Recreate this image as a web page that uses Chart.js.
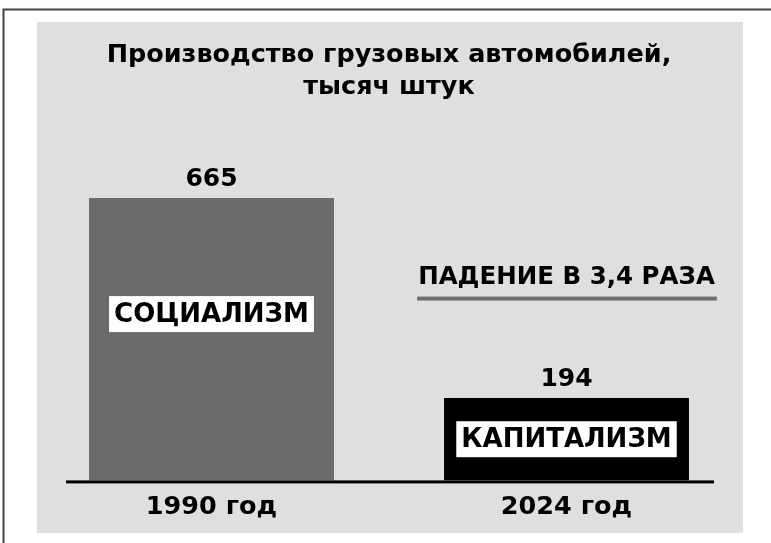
<!DOCTYPE html>
<html>
<head>
<meta charset="utf-8">
<script src="https://cdn.jsdelivr.net/npm/chart.js@4.4.1/dist/chart.umd.min.js"></script>
<style>
  html, body { margin: 0; padding: 0; background: #fff; }
  canvas { display: block; }
</style>
</head>
<body>
<canvas id="chart" width="771" height="543"></canvas>
<script>
// данные
const years = ["1990 год", "2024 год"];
const trucks = [665, 194];
const systems = ["СОЦИАЛИЗМ", "КАПИТАЛИЗМ"];
const barColors = ["#6b6b6b", "#000000"];
const titleLines = ["Производство грузовых автомобилей,", "тысяч штук"];

const FONT = "'DejaVu Sans', sans-serif";

// серая подложка и рамка
const backdrop = {
    id: "backdrop",
    beforeDraw(chart) {
        const ctx = chart.ctx;
        ctx.save();
        ctx.fillStyle = "#fff";
        ctx.fillRect(0, 0, chart.width, chart.height);
        ctx.fillStyle = "#dfdfdf";
        ctx.fillRect(37, 22, 706, 511);
        ctx.strokeStyle = "#444";
        ctx.lineWidth = 2;
        ctx.beginPath();
        ctx.moveTo(chart.width, 9.5);
        ctx.lineTo(3.5, 9.5);
        ctx.lineTo(3.5, chart.height);
        ctx.stroke();
        ctx.restore();
    }
};

// подписи над столбцами, плашки внутри, надпись о падении
const barText = {
    id: "barText",
    afterDatasetsDraw(chart) {
        const ctx = chart.ctx;
        const meta = chart.getDatasetMeta(0);
        const area = chart.chartArea;
        const y0 = chart.scales.y.getPixelForValue(0);
        ctx.save();
        ctx.fillStyle = "#000";
        ctx.fillRect(area.left + 32, y0, area.right - area.left - 62, 3);

        ctx.textAlign = "center";
        ctx.textBaseline = "middle";
        meta.data.forEach((bar, i) => {
            ctx.fillStyle = "#000";
            ctx.font = `bold 25px ${FONT}`;
            ctx.fillText(String(trucks[i]), bar.x, bar.y - 19);
            const h = bar.base - bar.y;
            const cy = bar.y + Math.min(h / 2, 116);
            ctx.font = `bold 26px ${FONT}`;
            const w = ctx.measureText(systems[i]).width + 10;
            ctx.fillStyle = "#fff";
            ctx.fillRect(bar.x - w / 2, cy - 18, w, 36);
            ctx.fillStyle = "#000";
            ctx.fillText(systems[i], bar.x, cy + 1);
        });

        const a = meta.data[0], b = meta.data[1];
        const lineY = (a.y + b.y) / 2;
        const ratio = (trucks[0] / trucks[1]).toFixed(1).replace(".", ",");
        const txt = `ПАДЕНИЕ В ${ratio} РАЗА`;
        ctx.font = `bold 24.5px ${FONT}`;
        ctx.fillStyle = "#000";
        ctx.fillText(txt, b.x, lineY - 20);
        const tw = ctx.measureText(txt).width;
        ctx.fillStyle = "#6e6e6e";
        ctx.fillRect(b.x - tw / 2 - 1, lineY - 1.5, tw + 3, 4);
        ctx.restore();
    }
};

new Chart(document.getElementById("chart"), {
    type: "bar",
    plugins: [backdrop, barText],
    data: {
        labels: years,
        datasets: [{
            data: trucks,
            backgroundColor: barColors,
            borderWidth: 0,
            barPercentage: 0.69,
            categoryPercentage: 1
        }]
    },
    options: {
        responsive: false,
        animation: false,
        layout: { padding: { left: 34, right: 27, top: 30, bottom: 8 } },
        plugins: {
            legend: { display: false },
            tooltip: { enabled: false },
            title: {
                display: true,
                text: titleLines,
                color: "#000",
                font: { family: FONT, size: 25.5, weight: "bold", lineHeight: 1.24 },
                padding: { top: 10, bottom: 80 }
            }
        },
        scales: {
            x: {
                grid: { display: false, drawTicks: false },
                border: { display: false },
                ticks: { color: "#000", padding: 12, font: { family: FONT, size: 25.5, weight: "bold" } }
            },
            y: {
                display: false,
                min: 0,
                max: 700
            }
        }
    }
});
</script>
</body>
</html>
